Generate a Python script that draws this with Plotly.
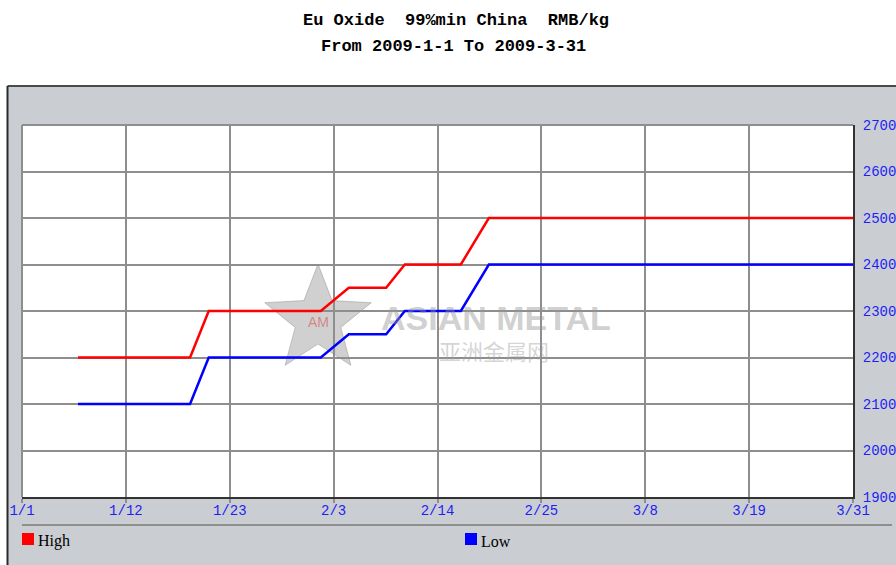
import numpy as np
import pandas as pd
import plotly.graph_objects as go

# ---- data ----
dates = ["2009-01-07", "2009-01-19", "2009-01-21", "2009-02-02", "2009-02-05",
         "2009-02-09", "2009-02-11", "2009-02-17", "2009-02-20", "2009-03-31"]
high = [2200, 2200, 2300, 2300, 2350, 2350, 2400, 2400, 2500, 2500]
low = [2100, 2100, 2200, 2200, 2250, 2250, 2300, 2300, 2400, 2400]
x_tick_labels = ["1/1", "1/12", "1/23", "2/3", "2/14", "2/25", "3/8", "3/19", "3/31"]
y_tick_vals = [1900, 2000, 2100, 2200, 2300, 2400, 2500, 2600, 2700]
title_line1 = "Eu Oxide\u00a0\u00a099%min China\u00a0\u00a0RMB/kg"
title_line2 = "From 2009-1-1 To 2009-3-31"

# ---- layout geometry ----
W, H = 896, 565
L, R, T, B = 22, 43, 125, 68
PW = W - L - R
PH = H - T - B


def px(X):
    return (X - L) / PW


def py(Y):
    return (H - B - Y) / PH


start = pd.Timestamp("2009-01-01")
end = pd.Timestamp("2009-03-31")
tickvals = [(start + (end - start) * k / 8).strftime("%Y-%m-%d %H:%M:%S") for k in range(9)]

PANEL = "#CACED2"
GRID = "#8E8E8E"
BLUE_TXT = "#1E1EF5"

fig = go.Figure()
fig.add_trace(go.Scatter(x=dates, y=high, mode="lines", name="High",
                         line=dict(color="#FF0000", width=2.5), showlegend=False,
                         hoverinfo="x+y"))
fig.add_trace(go.Scatter(x=dates, y=low, mode="lines", name="Low",
                         line=dict(color="#0000FF", width=2.5), showlegend=False,
                         hoverinfo="x+y"))

shapes = []
# white area above the panel and to its left
shapes.append(dict(type="rect", xref="paper", yref="paper", layer="below",
                   x0=px(-10), x1=px(W + 10), y0=py(86), y1=py(-10),
                   fillcolor="white", line=dict(width=0)))
shapes.append(dict(type="rect", xref="paper", yref="paper", layer="below",
                   x0=px(-10), x1=px(7), y0=py(H + 10), y1=py(86),
                   fillcolor="white", line=dict(width=0)))
# panel borders
shapes.append(dict(type="line", xref="paper", yref="paper", layer="above",
                   x0=px(7.5), x1=px(W + 5), y0=py(86), y1=py(86),
                   line=dict(color="#4A4A4A", width=2)))
shapes.append(dict(type="line", xref="paper", yref="paper", layer="above",
                   x0=px(7.5), x1=px(7.5), y0=py(86), y1=py(H + 5),
                   line=dict(color="#2A2A2A", width=2)))
# separator above the legend
shapes.append(dict(type="line", xref="paper", yref="paper", layer="above",
                   x0=px(22), x1=px(892), y0=py(525), y1=py(525),
                   line=dict(color=GRID, width=2)))
# plot frame left / top (gray)
shapes.append(dict(type="line", xref="paper", yref="paper", layer="below",
                   x0=0, x1=0, y0=0, y1=1, line=dict(color=GRID, width=2)))
shapes.append(dict(type="line", xref="paper", yref="paper", layer="below",
                   x0=0, x1=1, y0=1, y1=1, line=dict(color=GRID, width=2)))
# legend squares
shapes.append(dict(type="rect", xref="paper", yref="paper", layer="above",
                   x0=px(22), x1=px(34), y0=py(545), y1=py(533),
                   fillcolor="#FF0000", line=dict(width=0)))
shapes.append(dict(type="rect", xref="paper", yref="paper", layer="above",
                   x0=px(465), x1=px(477), y0=py(545), y1=py(533),
                   fillcolor="#0000FF", line=dict(width=0)))

# watermark star
cx, cy, Ro, Ri = 318, 320, 56, 24
pts = []
for i in range(10):
    ang = np.pi / 2 + i * np.pi / 5
    r = Ro if i % 2 == 0 else Ri
    pts.append((cx + r * np.cos(ang), cy - r * np.sin(ang)))
path = "M " + " L ".join(f"{px(a):.5f},{py(b):.5f}" for a, b in pts) + " Z"
shapes.append(dict(type="path", xref="paper", yref="paper", layer="below",
                   path=path, fillcolor="rgba(150,150,150,0.45)",
                   line=dict(color="rgba(130,130,130,0.4)", width=1)))

annotations = [
    dict(text=f"<b>{title_line1}</b>", xref="paper", yref="paper",
         x=px(456), y=py(20), showarrow=False, xanchor="center", yanchor="middle",
         font=dict(family="Liberation Mono", size=17, color="#000000")),
    dict(text=f"<b>{title_line2}</b>", xref="paper", yref="paper",
         x=px(454), y=py(47), showarrow=False, xanchor="center", yanchor="middle",
         font=dict(family="Liberation Mono", size=17, color="#000000")),
    dict(text="High", xref="paper", yref="paper", x=px(36), y=py(541),
         showarrow=False, xanchor="left", yanchor="middle",
         font=dict(family="Liberation Serif", size=16, color="#000000")),
    dict(text="Low", xref="paper", yref="paper", x=px(479), y=py(541),
         showarrow=False, xanchor="left", yanchor="middle",
         font=dict(family="Liberation Serif", size=16, color="#000000")),
    dict(text="<b>ASIAN METAL</b>", xref="paper", yref="paper", x=px(496), y=py(318),
         showarrow=False, xanchor="center", yanchor="middle",
         font=dict(family="Liberation Sans", size=34, color="rgba(150,150,150,0.45)")),
    dict(text="亚洲金属网", xref="paper", yref="paper", x=px(494), y=py(350),
         showarrow=False, xanchor="center", yanchor="middle",
         font=dict(family="Noto Sans CJK SC", size=22, color="rgba(160,160,160,0.45)")),
    dict(text="AM", xref="paper", yref="paper", x=px(318), y=py(322),
         showarrow=False, xanchor="center", yanchor="middle",
         font=dict(family="Liberation Sans", size=14, color="rgba(220,80,80,0.6)")),
]

fig.update_layout(
    width=W, height=H, autosize=False,
    margin=dict(l=L, r=R, t=T, b=B, pad=0, autoexpand=False),
    paper_bgcolor=PANEL,
    plot_bgcolor="white",
    shapes=shapes,
    annotations=annotations,
    showlegend=False,
    xaxis=dict(
        type="date", range=[start.strftime("%Y-%m-%d"), end.strftime("%Y-%m-%d")],
        tickmode="array", tickvals=tickvals, ticktext=x_tick_labels,
        showgrid=True, gridcolor=GRID, gridwidth=1.5,
        ticks="outside", ticklen=4, tickcolor=GRID, tickwidth=1.5,
        ticklabelstandoff=-5,
        showline=True, linecolor="#333333", linewidth=2,
        tickfont=dict(family="Liberation Mono", size=14, color=BLUE_TXT),
        zeroline=False, fixedrange=True, automargin=False,
    ),
    yaxis=dict(
        side="right", range=[1900, 2700], tickmode="array", tickvals=y_tick_vals,
        showgrid=True, gridcolor=GRID, gridwidth=1.5,
        ticks="outside", ticklen=5, tickcolor=PANEL,
        showline=True, linecolor="#333333", linewidth=2,
        tickfont=dict(family="Liberation Mono", size=14, color=BLUE_TXT),
        zeroline=False, fixedrange=True, automargin=False,
    ),
)

post = ("document.body.style.margin='0';document.body.style.padding='0';"
        "document.body.style.overflow='hidden';"
        "document.documentElement.style.overflow='hidden';")

fig.write_html("out.html", config={"responsive": False, "displayModeBar": False},
               post_script=post)
